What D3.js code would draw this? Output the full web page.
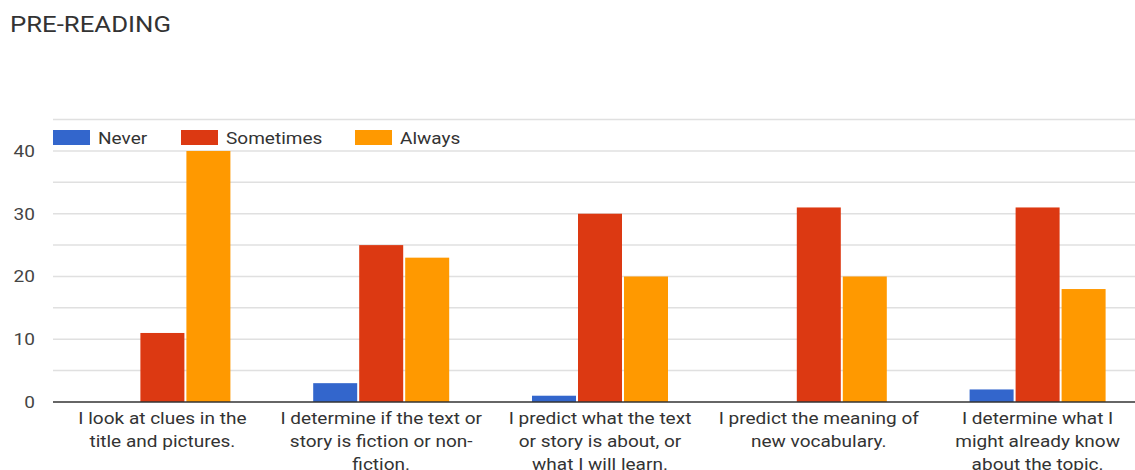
<!DOCTYPE html>
<html><head><meta charset="utf-8">
<script src="https://cdn.jsdelivr.net/npm/d3@7"></script>
<style>body{margin:0;background:#fff;}svg{display:block;font-family:Roboto,Arial,sans-serif;}</style>
</head><body>
<svg id="c" width="1135" height="470"></svg>
<script>
const categories = [
  ["I look at clues in the","title and pictures."],
  ["I determine if the text or","story is fiction or non-","fiction."],
  ["I predict what the text","or story is about, or","what I will learn."],
  ["I predict the meaning of","new vocabulary."],
  ["I determine what I","might already know","about the topic."]
];
const seriesNames = ["Never","Sometimes","Always"];
const seriesColors = ["#3366cc","#dc3912","#ff9900"];
const never = [0,3,1,0,2];
const sometimes = [11,25,30,31,31];
const always = [40,23,20,20,18];
const yTicks = [0,10,20,30,40];
const gridValues = [0,5,10,15,20,25,30,35,40,45];

const SX = 1.12;
const values = [never, sometimes, always];
const svg = d3.select("#c");
const x = d3.scaleBand().domain(d3.range(categories.length)).range([53,1147]);
const y = d3.scaleLinear().domain([0,45]).range([402,119.6]);
const barW = 44, step = 46;

svg.append("text").attr("transform",`translate(10,32) scale(${SX},1)`).attr("font-size",23).attr("fill","#333").text("PRE-READING");

svg.append("g").selectAll("line").data(gridValues.filter(v=>v>0)).join("line")
  .attr("x1",53).attr("x2",1135).attr("y1",d=>y(d)).attr("y2",d=>y(d))
  .attr("stroke","#e0e0e0").attr("stroke-width",1.5);

svg.append("g").selectAll("text").data(yTicks).join("text")
  .attr("transform",d=>`translate(35,${y(d)+6}) scale(${SX},1)`)
  .attr("text-anchor","end").attr("font-size",17).attr("fill","#444").text(d=>d);

seriesNames.forEach((s,si)=>{
  svg.append("g").selectAll("rect").data(values[si]).join("rect")
    .attr("x",(d,i)=>x(i)+x.bandwidth()/2+(si-1)*step-barW/2)
    .attr("width",barW)
    .attr("y",d=>y(d)).attr("height",d=>y(0)-y(d))
    .attr("fill",seriesColors[si]);
});

svg.append("line").attr("x1",53).attr("x2",1135).attr("y1",y(0)).attr("y2",y(0)).attr("stroke","#333").attr("stroke-width",1.5);

const lab = svg.append("g").selectAll("text").data(categories).join("text")
  .attr("text-anchor","middle").attr("font-size",17).attr("fill","#333")
  .attr("transform",(d,i)=>`translate(${x(i)+x.bandwidth()/2},0) scale(${SX},1)`);
lab.each(function(lines){
  d3.select(this).selectAll("tspan").data(lines).join("tspan")
    .attr("x",0).attr("y",(l,j)=>424+j*23).text(l=>l);
});

const legX = [53,181,355];
const leg = svg.append("g").selectAll("g").data(seriesNames).join("g")
  .attr("transform",(d,i)=>`translate(${legX[i]},130)`);
leg.append("rect").attr("width",37).attr("height",15).attr("fill",(d,i)=>seriesColors[i]);
leg.append("text").attr("transform",`translate(45,14) scale(${SX},1)`).attr("font-size",17).attr("fill","#333").text(d=>d);
</script>
</body></html>
